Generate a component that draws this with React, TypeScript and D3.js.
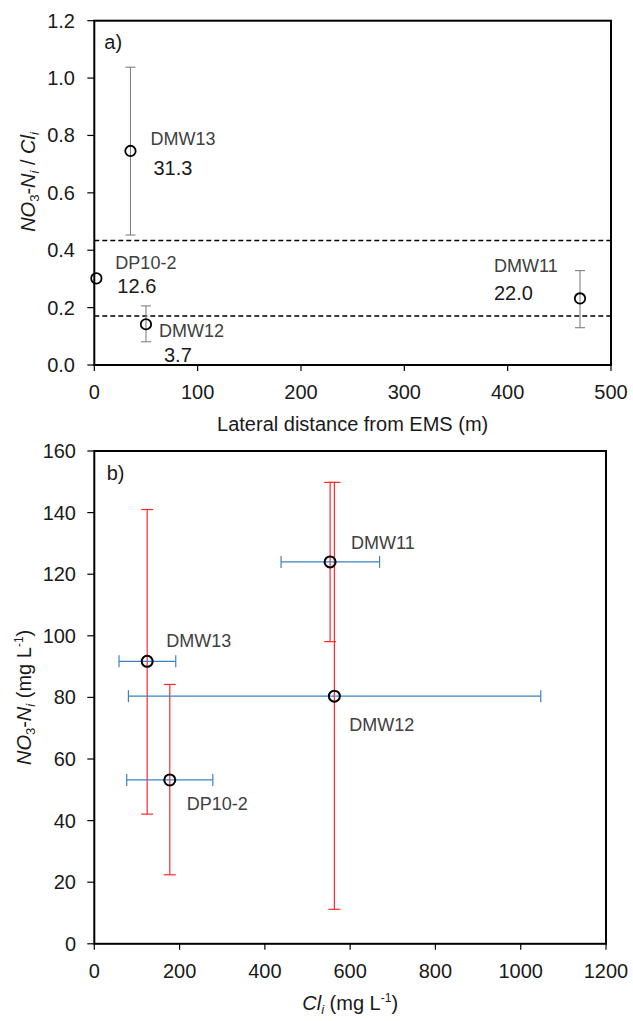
import React from 'react';
import * as d3 from 'd3';

// ---------- Panel a data ----------
const wellsA = ['DP10-2', 'DMW13', 'DMW12', 'DMW11'];
const distance = [2, 35, 50, 470];
const ratio = [0.302, 0.746, 0.142, 0.232];
const ratioLow = [NaN, 0.453, 0.081, 0.13];
const ratioHigh = [NaN, 1.038, 0.206, 0.329];
const residence = ['12.6', '31.3', '3.7', '22.0'];
const thresholds = [0.434, 0.171];
const xTicksA = [0, 100, 200, 300, 400, 500];
const yTicksA = [0, 0.2, 0.4, 0.6, 0.8, 1.0, 1.2];

// ---------- Panel b data ----------
const wellsB = ['DP10-2', 'DMW13', 'DMW12', 'DMW11'];
const cl = [177, 124, 563, 553];
const clLow = [76, 58, 80, 438];
const clHigh = [278, 191, 1047, 669];
const no3 = [53.2, 91.7, 80.4, 124.0];
const no3Low = [22.4, 42.1, 11.2, 98.1];
const no3High = [84.2, 141.0, 149.8, 149.8];
const xTicksB = [0, 200, 400, 600, 800, 1000, 1200];
const yTicksB = [0, 20, 40, 60, 80, 100, 120, 140, 160];

const FONT = '"Liberation Sans", Arial, sans-serif';
const TXT = '#1a1a1a';
const LBL = '#404040';

export default function App() {
  // panel a geometry
  const ax = d3.scaleLinear().domain([0, 500]).range([94.3, 611]);
  const ay = d3.scaleLinear().domain([0, 1.2]).range([365, 20.7]);
  // panel b geometry
  const bx = d3.scaleLinear().domain([0, 1200]).range([94.3, 606]);
  const by = d3.scaleLinear().domain([0, 160]).range([943.8, 451]);

  const labelOffA: Record<string, { n: [number, number]; v: [number, number] }> = {
    'DP10-2': { n: [19, -9], v: [21, 15] },
    DMW13: { n: [20, -6], v: [23, 24] },
    DMW12: { n: [13, 13], v: [18, 38] },
    DMW11: { n: [-86, -26], v: [-86, 2] },
  };
  const labelOffB: Record<string, [number, number]> = {
    'DP10-2': [17, 30],
    DMW13: [19, -14],
    DMW12: [15, 35],
    DMW11: [21, -13],
  };

  const fmtA = d3.format('.1f');
  const cap = 5;

  return (
    <svg
      width={633}
      height={1021}
      style={{ position: 'absolute', left: 0, top: 0, background: '#fff' }}
      fontFamily={FONT}
    >
      <rect x={0} y={0} width={633} height={1021} fill="#fff" />
      {/* ================= Panel a ================= */}
      <g>
        {thresholds.map((t, i) => (
          <line
            key={'t' + i}
            x1={ax(0)}
            x2={ax(500)}
            y1={ay(t)}
            y2={ay(t)}
            stroke="#000"
            strokeWidth={1.6}
            strokeDasharray="5,3"
          />
        ))}
        {wellsA.map((w, i) =>
          isNaN(ratioLow[i]) ? null : (
            <g key={'ea' + w} stroke="#808080" strokeWidth={1.1}>
              <line x1={ax(distance[i])} x2={ax(distance[i])} y1={ay(ratioLow[i])} y2={ay(ratioHigh[i])} />
              <line x1={ax(distance[i]) - cap} x2={ax(distance[i]) + cap} y1={ay(ratioLow[i])} y2={ay(ratioLow[i])} />
              <line x1={ax(distance[i]) - cap} x2={ax(distance[i]) + cap} y1={ay(ratioHigh[i])} y2={ay(ratioHigh[i])} />
            </g>
          )
        )}
        {wellsA.map((w, i) => (
          <circle key={'pa' + w} cx={ax(distance[i])} cy={ay(ratio[i])} r={5.2} fill="none" stroke="#000" strokeWidth={1.8} />
        ))}
        {wellsA.map((w, i) => {
          const px = ax(distance[i]);
          const py = ay(ratio[i]);
          const o = labelOffA[w];
          return (
            <g key={'la' + w}>
              <text x={px + o.n[0]} y={py + o.n[1]} fontSize={18} fill={LBL}>
                {w}
              </text>
              <text x={px + o.v[0]} y={py + o.v[1]} fontSize={20} fill={TXT}>
                {residence[i]}
              </text>
            </g>
          );
        })}
        <rect x={ax(0)} y={ay(1.2)} width={ax(500) - ax(0)} height={ay(0) - ay(1.2)} fill="none" stroke="#000" strokeWidth={2} />
        {xTicksA.map((t) => (
          <g key={'xa' + t}>
            <line x1={ax(t)} x2={ax(t)} y1={ay(0)} y2={ay(0) + 6} stroke="#000" strokeWidth={1.2} />
            <text x={ax(t)} y={399} textAnchor="middle" fontSize={20} fill={TXT}>
              {t}
            </text>
          </g>
        ))}
        {yTicksA.map((t) => (
          <g key={'ya' + t}>
            <line x1={ax(0) - 7} x2={ax(0)} y1={ay(t)} y2={ay(t)} stroke="#000" strokeWidth={1.2} />
            <text x={75} y={ay(t) + 7} textAnchor="end" fontSize={20} fill={TXT}>
              {fmtA(t)}
            </text>
          </g>
        ))}
        <text x={104.3} y={49.3} fontSize={20} fill={TXT}>
          a)
        </text>
        <text x={(ax(0) + ax(500)) / 2} y={431} textAnchor="middle" fontSize={20} fill={TXT}>
          Lateral distance from EMS (m)
        </text>
        <text transform="translate(35,182) rotate(-90)" textAnchor="middle" fontSize={20} fill={TXT}>
          <tspan fontStyle="italic">NO</tspan>
          <tspan fontSize={13} dy={4}>3</tspan>
          <tspan dy={-4}>-</tspan>
          <tspan fontStyle="italic">N</tspan>
          <tspan fontSize={13} dy={4} fontStyle="italic">i</tspan>
          <tspan dy={-4}> / </tspan>
          <tspan fontStyle="italic">Cl</tspan>
          <tspan fontSize={13} dy={4} fontStyle="italic">i</tspan>
        </text>
      </g>

      {/* ================= Panel b ================= */}
      <g>
        {wellsB.map((w, i) => (
          <g key={'rb' + w} stroke="#ff2a2a" strokeWidth={1.2}>
            <line x1={bx(cl[i])} x2={bx(cl[i])} y1={by(no3Low[i])} y2={by(no3High[i])} />
            <line x1={bx(cl[i]) - 6} x2={bx(cl[i]) + 6} y1={by(no3Low[i])} y2={by(no3Low[i])} />
            <line x1={bx(cl[i]) - 6} x2={bx(cl[i]) + 6} y1={by(no3High[i])} y2={by(no3High[i])} />
          </g>
        ))}
        {wellsB.map((w, i) => (
          <g key={'bb' + w} stroke="#3b82c4" strokeWidth={1.2}>
            <line x1={bx(clLow[i])} x2={bx(clHigh[i])} y1={by(no3[i])} y2={by(no3[i])} />
            <line x1={bx(clLow[i])} x2={bx(clLow[i])} y1={by(no3[i]) - 6} y2={by(no3[i]) + 6} />
            <line x1={bx(clHigh[i])} x2={bx(clHigh[i])} y1={by(no3[i]) - 6} y2={by(no3[i]) + 6} />
          </g>
        ))}
        {wellsB.map((w, i) => (
          <circle key={'pb' + w} cx={bx(cl[i])} cy={by(no3[i])} r={5.5} fill="none" stroke="#000" strokeWidth={2} />
        ))}
        {wellsB.map((w, i) => (
          <text key={'lb' + w} x={bx(cl[i]) + labelOffB[w][0]} y={by(no3[i]) + labelOffB[w][1]} fontSize={18} fill={LBL}>
            {w}
          </text>
        ))}
        <rect x={bx(0)} y={by(160)} width={bx(1200) - bx(0)} height={by(0) - by(160)} fill="none" stroke="#000" strokeWidth={2} />
        {xTicksB.map((t) => (
          <g key={'xb' + t}>
            <line x1={bx(t)} x2={bx(t)} y1={by(0)} y2={by(0) + 6} stroke="#000" strokeWidth={1.2} />
            <text x={bx(t)} y={978} textAnchor="middle" fontSize={20} fill={TXT}>
              {t}
            </text>
          </g>
        ))}
        {yTicksB.map((t) => (
          <g key={'yb' + t}>
            <line x1={bx(0) - 7} x2={bx(0)} y1={by(t)} y2={by(t)} stroke="#000" strokeWidth={1.2} />
            <text x={76} y={by(t) + 7} textAnchor="end" fontSize={20} fill={TXT}>
              {t}
            </text>
          </g>
        ))}
        <text x={106.7} y={480} fontSize={20} fill={TXT}>
          b)
        </text>
        <text x={(bx(0) + bx(1200)) / 2} y={1010} textAnchor="middle" fontSize={20} fill={TXT}>
          <tspan fontStyle="italic">Cl</tspan>
          <tspan fontSize={13} dy={4} fontStyle="italic">i</tspan>
          <tspan dy={-4}> (mg L</tspan>
          <tspan fontSize={12} dy={-8}>-1</tspan>
          <tspan dy={8}>)</tspan>
        </text>
        <text transform={`translate(31,${(by(0) + by(160)) / 2}) rotate(-90)`} textAnchor="middle" fontSize={20} fill={TXT}>
          <tspan fontStyle="italic">NO</tspan>
          <tspan fontSize={13} dy={4}>3</tspan>
          <tspan dy={-4}>-</tspan>
          <tspan fontStyle="italic">N</tspan>
          <tspan fontSize={13} dy={4} fontStyle="italic">i</tspan>
          <tspan dy={-4}> (mg L</tspan>
          <tspan fontSize={12} dy={-8}>-1</tspan>
          <tspan dy={8}>)</tspan>
        </text>
      </g>
    </svg>
  );
}
